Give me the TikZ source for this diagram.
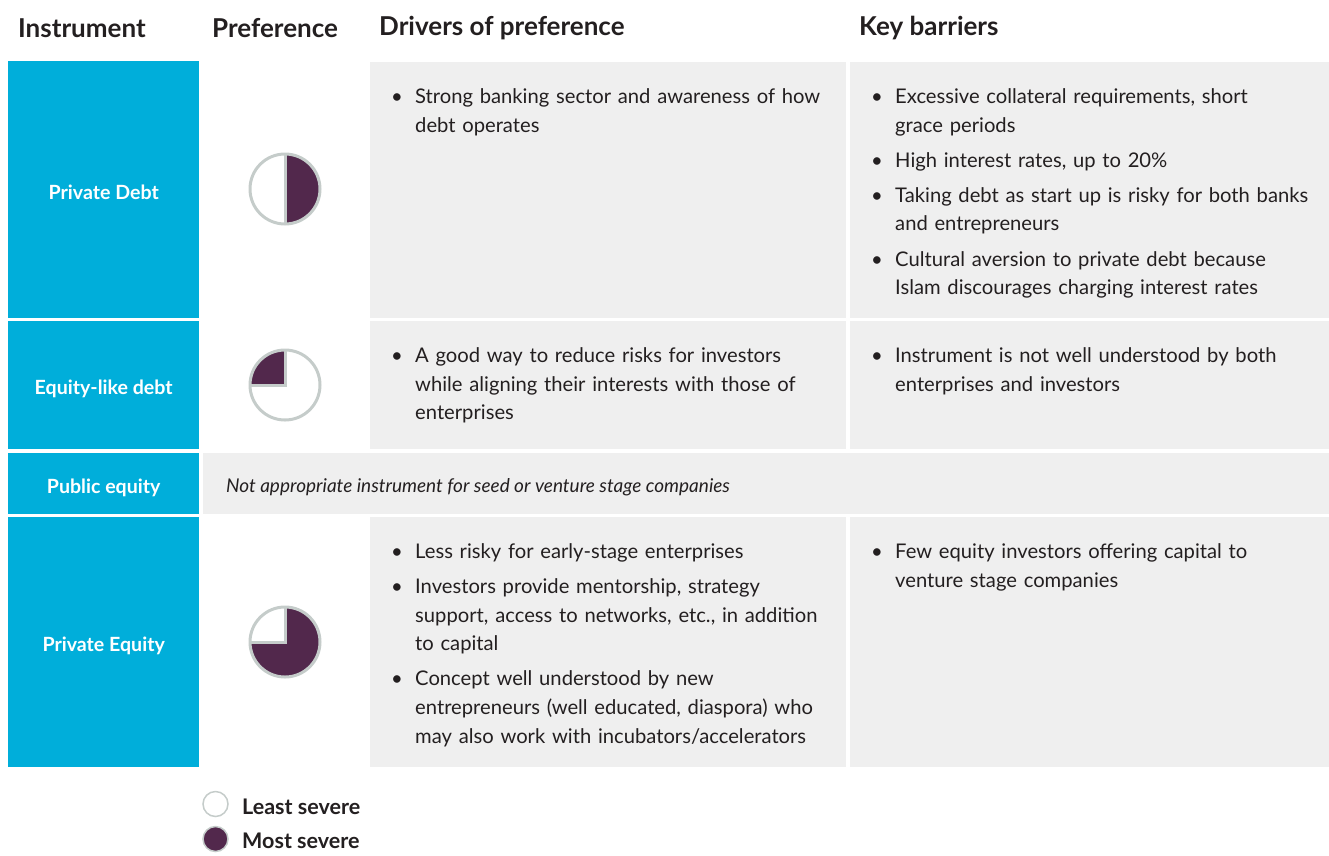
\documentclass[tikz,border=0pt]{standalone}
\usepackage{fontspec}
\setmainfont{Lato}
\usetikzlibrary{positioning}
\definecolor{instblue}{HTML}{00AEDA}
\definecolor{cellgrey}{HTML}{EFEFEF}
\definecolor{piepurple}{HTML}{52284C}
\definecolor{pieline}{HTML}{C5CCCA}
\definecolor{inktext}{HTML}{231F20}
\newcommand{\bul}[1]{\hangindent=24pt\hangafter=1\noindent\makebox[24pt][l]{\textbullet}#1\par
\setlength{\parskip}{6.5pt}}

\begin{document}
\begin{tikzpicture}[x=1pt,y=1pt]
\tikzstyle{instcell}=[fill=instblue, text=white, anchor=north west, inner sep=0pt,
text height=19pt, text depth=0pt, font=\fontsize{19.6}{22}\selectfont\bfseries]
\tikzstyle{greycell}=[fill=cellgrey, anchor=north west, inner sep=0pt]
\tikzstyle{head}=[anchor=west, inner sep=0pt, text=inktext,
font=\fontsize{26}{30}\selectfont\bfseries]
\tikzstyle{bullets}=[anchor=north west, inner sep=0pt, text=inktext, text width=450pt,
align=left, font=\fontsize{20.2}{28.6}\selectfont]
\tikzstyle{legendtxt}=[anchor=west, inner sep=0pt, text=inktext,
font=\fontsize{21.5}{24}\selectfont\bfseries]

\useasboundingbox (0,0) rectangle (1329,-855);

% header row
\node[head] (hinst) at (18,-28) {Instrument};
\node[head] (hpref) at (212,-28) {Preference};
\node[head] (hdriv) at (379,-28) {Drivers of preference};
\node[head] (hbarr) at (859,-28) {Key barriers};

% instrument column
\node[instcell, minimum width=191pt, minimum height=257pt] (pdebt) at (8,-61) {Private Debt};
\node[instcell, minimum width=191pt, minimum height=128pt] (edebt) at (8,-321) {Equity-like debt};
\node[instcell, minimum width=191pt, minimum height=61pt] (pubeq) at (8,-453) {Public equity};
\node[instcell, minimum width=191pt, minimum height=250pt] (priveq) at (8,-517) {Private Equity};

% grey cells
\node[greycell, minimum width=476pt, minimum height=256pt] (drv1) at (370,-62) {};
\node[greycell, minimum width=479pt, minimum height=256pt] (bar1) at (850,-62) {};
\node[greycell, minimum width=476pt, minimum height=128pt] (drv2) at (370,-321) {};
\node[greycell, minimum width=479pt, minimum height=128pt] (bar2) at (850,-321) {};
\node[greycell, minimum width=1126pt, minimum height=61pt] (note3) at (203,-453) {};
\node[greycell, minimum width=476pt, minimum height=250pt] (drv4) at (370,-517) {};
\node[greycell, minimum width=479pt, minimum height=250pt] (bar4) at (850,-517) {};

% cell texts
\node[bullets, below right=26.5pt and 21pt of drv1.north west] (drv1t)
{\bul{Strong banking sector and awareness of how\newline debt operates}};
\node[bullets, below right=26.5pt and 21pt of bar1.north west] (bar1t)
{\bul{Excessive collateral requirements, short\newline grace periods}
\bul{High interest rates, up to 20\%}
\bul{Taking debt as start up is risky for both banks\newline and entrepreneurs}
\bul{Cultural aversion to private debt because\newline Islam discourages charging interest rates}};
\node[bullets, below right=26.5pt and 21pt of drv2.north west] (drv2t)
{\bul{A good way to reduce risks for investors\newline while aligning their interests with those of\newline enterprises}};
\node[bullets, below right=26.5pt and 21pt of bar2.north west] (bar2t)
{\bul{Instrument is not well understood by both\newline enterprises and investors}};
\node[anchor=west, inner sep=0pt, text=inktext, font=\fontsize{19}{22}\selectfont\itshape]
(note3t) at (226,-487) {Not appropriate instrument for seed or venture stage companies};
\node[bullets, below right=26.5pt and 21pt of drv4.north west] (drv4t)
{\bul{Less risky for early-stage enterprises}
\bul{Investors provide mentorship, strategy\newline support, access to networks, etc., in addition\newline to capital}
\bul{Concept well understood by new\newline entrepreneurs (well educated, diaspora) who\newline may also work with incubators/accelerators}};
\node[bullets, below right=26.5pt and 21pt of bar4.north west] (bar4t)
{\bul{Few equity investors offering capital to\newline venture stage companies}};

% preference pies
\coordinate (pie1) at (285,-189);
\coordinate (pie2) at (285,-385);
\coordinate (pie4) at (285,-642);
\fill[piepurple] (pie1) -- ++(0,35) arc (90:-90:35) -- cycle;
\draw[pieline, line width=3pt] (pie1) circle (35);
\draw[pieline, line width=3pt] (pie1) ++(0,35) -- ++(0,-70);
\fill[piepurple] (pie2) -- ++(0,35) arc (90:180:35) -- cycle;
\draw[pieline, line width=3pt] (pie2) circle (35);
\draw[pieline, line width=3pt] (pie2) ++(0,35) -- (pie2) -- ++(-35,0);
\fill[piepurple] (pie4) -- ++(0,35) arc (90:-180:35) -- cycle;
\draw[pieline, line width=3pt] (pie4) circle (35);
\draw[pieline, line width=3pt] (pie4) ++(0,35) -- (pie4) -- ++(-35,0);

% legend
\draw[pieline, fill=white, line width=1.5pt] (215.5,-804) circle (12.5);
\draw[pieline, fill=piepurple, line width=1.5pt] (215.5,-839) circle (12.5);
\node[legendtxt] (least) at (242,-807) {Least severe};
\node[legendtxt] (most) at (242,-841) {Most severe};

\end{tikzpicture}
\end{document}
